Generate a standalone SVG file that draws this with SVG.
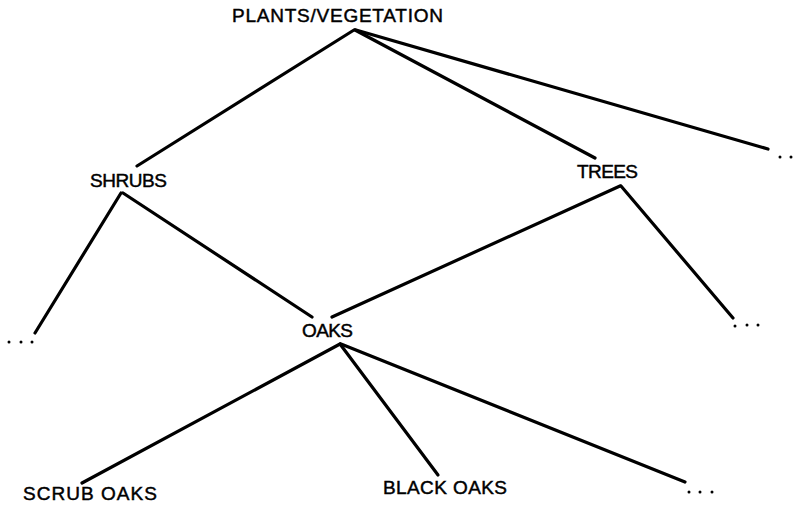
<svg xmlns="http://www.w3.org/2000/svg" width="801" height="505" viewBox="0 0 801 505">
<style>
.lbl{font-family:"Liberation Sans",Arial,sans-serif;font-size:19px;fill:#000;stroke:#000;stroke-width:0.45}
.edge{stroke:#000;stroke-width:3.2;stroke-linecap:round;fill:none}
.dot{fill:#000}
</style>
<rect width="801" height="505" fill="#fff"/>
<g id="connectors">
<line class="edge" x1="354" y1="30" x2="137" y2="166"/>
<line class="edge" x1="355" y1="30" x2="595" y2="158"/>
<line class="edge" x1="356" y1="30" x2="768" y2="149"/>
<line class="edge" x1="121" y1="193" x2="35" y2="333"/>
<line class="edge" x1="123" y1="193" x2="312" y2="317"/>
<line class="edge" x1="620" y1="186" x2="332" y2="317"/>
<line class="edge" x1="621" y1="186" x2="733" y2="318"/>
<line class="edge" x1="340" y1="344" x2="82" y2="483"/>
<line class="edge" x1="340" y1="344" x2="438" y2="475"/>
<line class="edge" x1="341" y1="344" x2="685" y2="482"/>
</g>
<g id="plants"><text class="lbl" x="232" y="22" textLength="211">PLANTS/VEGETATION</text></g>
<g id="shrubs"><text class="lbl" x="90" y="187" textLength="77">SHRUBS</text></g>
<g id="trees"><text class="lbl" x="577" y="178" textLength="61">TREES</text></g>
<g id="oaks"><text class="lbl" x="302" y="337" textLength="51">OAKS</text></g>
<g id="scrub-oaks"><text class="lbl" x="23" y="500" textLength="134">SCRUB OAKS</text></g>
<g id="black-oaks"><text class="lbl" x="383" y="494" textLength="124">BLACK OAKS</text></g>
<g id="more-top"><circle class="dot" cx="780" cy="157" r="1.5"/><circle class="dot" cx="791" cy="157" r="1.5"/></g>
<g id="more-shrubs"><circle class="dot" cx="9" cy="342" r="1.5"/><circle class="dot" cx="21" cy="342" r="1.5"/><circle class="dot" cx="32" cy="342" r="1.5"/></g>
<g id="more-trees"><circle class="dot" cx="735" cy="326" r="1.5"/><circle class="dot" cx="747" cy="325" r="1.5"/><circle class="dot" cx="758" cy="325" r="1.5"/></g>
<g id="more-oaks"><circle class="dot" cx="689" cy="492" r="1.5"/><circle class="dot" cx="700" cy="492" r="1.5"/><circle class="dot" cx="712" cy="492" r="1.5"/></g>
</svg>
